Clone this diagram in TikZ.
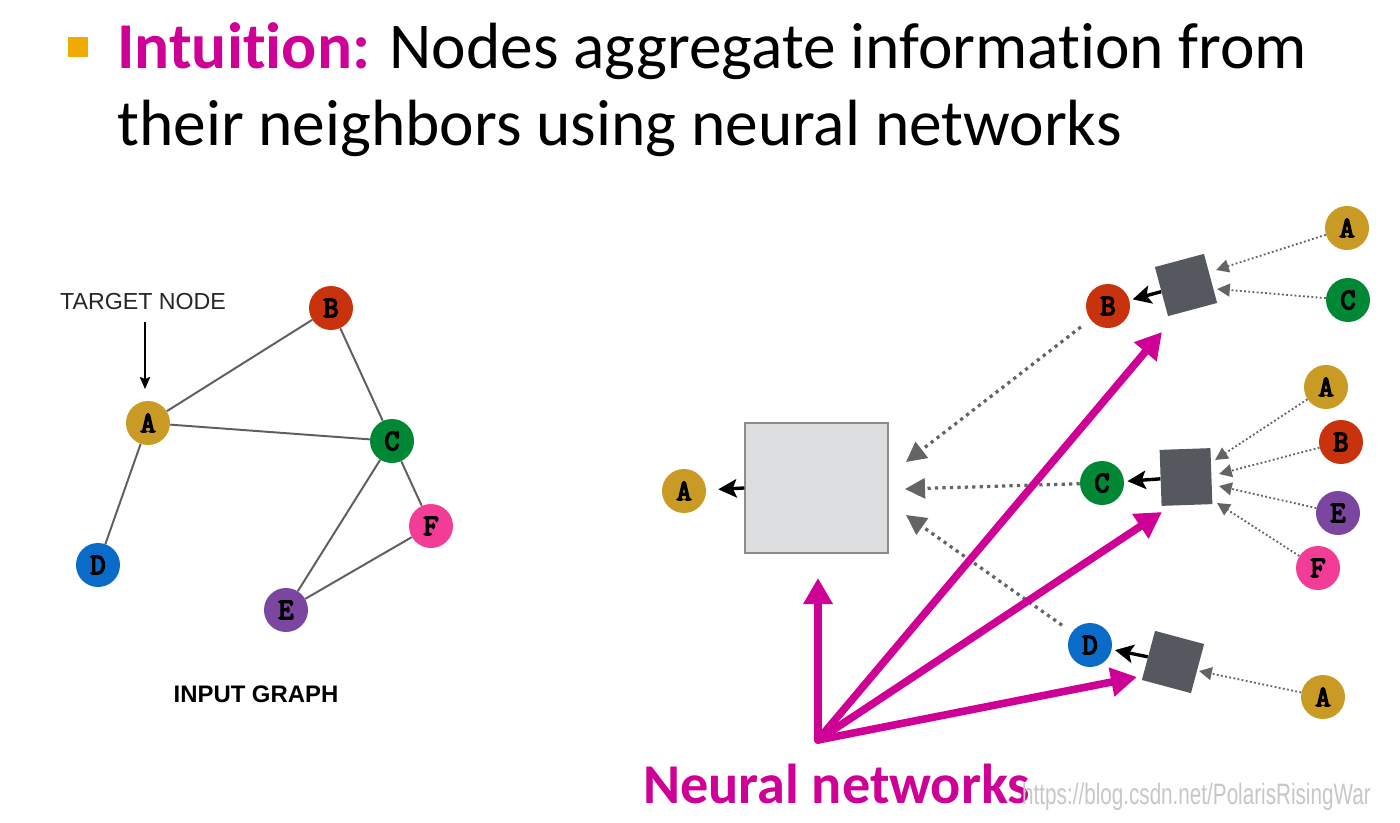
\documentclass[tikz,border=0pt]{standalone}
\usepackage{fontspec}
\setmainfont{Carlito}[Ligatures=NoCommon]
\newfontfamily\helv{Liberation Sans}
\newfontfamily\cour{Latin Modern Mono}[FakeBold=5]
\usetikzlibrary{arrows.meta}
\definecolor{nA}{RGB}{201,154,36}
\definecolor{nB}{RGB}{200,50,12}
\definecolor{nC}{RGB}{0,136,52}
\definecolor{nD}{RGB}{10,108,200}
\definecolor{nE}{RGB}{122,70,160}
\definecolor{nF}{RGB}{242,60,150}
\definecolor{mag}{RGB}{206,0,150}
\definecolor{bul}{RGB}{240,170,0}
\definecolor{boxgray}{RGB}{220,221,223}
\definecolor{sqgray}{RGB}{85,88,94}
\definecolor{dotgray}{RGB}{100,100,100}
\definecolor{edgegray}{RGB}{95,95,95}
\begin{document}
\begin{tikzpicture}[x=0.025cm,y=-0.025cm,
  gnode/.style={circle,minimum size=1.1cm,inner sep=0pt,font=\cour\fontsize{21}{21}\selectfont},
  gedge/.style={draw=edgegray,line width=1.4pt},
  sq/.style={fill=sqgray,minimum size=1.27cm,inner sep=0pt},
  blk/.style={draw=black,line width=2.4pt,-{Stealth[length=0.46cm,width=0.46cm,inset=0.1cm]}},
  bigdot/.style={draw=dotgray,line width=2.3pt,dash pattern=on 2.3pt off 3pt,-{Triangle[length=0.5cm,width=0.5cm]}},
  smalldot/.style={draw=dotgray,line width=1.3pt,dash pattern=on 1.3pt off 1.7pt,-{Triangle[length=0.32cm,width=0.32cm]}},
  magarrow/.style={draw=mag,line width=5.4pt,line cap=round,-{Triangle[length=0.65cm,width=0.7cm]}}]
\useasboundingbox (0,0) rectangle (1400,822);
% title
\node[fill=bul,minimum size=0.5cm,inner sep=0pt] (bullet) at (78,47) {};
\node[anchor=base west,inner sep=0pt,font=\fontsize{46.5}{55}\selectfont] (t1) at (117,68)
  {\textcolor{mag}{\textbf{Intuition:}} Nodes aggregate information from};
\node[anchor=base west,inner sep=0pt,font=\fontsize{46.5}{55}\selectfont] (t2) at (117,145)
  {their neighbors using neural networks};
% input graph
\node[gnode,fill=nA] (A) at (148,423) {A};
\node[gnode,fill=nB] (B) at (331,308) {B};
\node[gnode,fill=nC] (C) at (392,441) {C};
\node[gnode,fill=nD] (D) at (98,565) {D};
\node[gnode,fill=nE] (E) at (286,610) {E};
\node[gnode,fill=nF] (F) at (431,526) {F};
\draw[gedge] (A) -- (B);
\draw[gedge] (A) -- (C);
\draw[gedge] (B) -- (C);
\draw[gedge] (A) -- (D);
\draw[gedge] (C) -- (E);
\draw[gedge] (C) -- (F);
\draw[gedge] (E) -- (F);
\node[font=\helv\fontsize{16.5}{16.5}\selectfont,text=black!85] (tn) at (143,302) {TARGET NODE};
\coordinate (tgS) at (145,322);
\coordinate (tgE) at (145,389);
\draw[line width=1.3pt,-{Stealth[length=0.3cm,width=0.26cm,inset=0.05cm]}] (tgS) -- (tgE);
\node[font=\helv\bfseries\fontsize{17}{17}\selectfont] (ig) at (256,694) {INPUT GRAPH};
% aggregation
\node[gnode,fill=nA] (oA) at (684,491) {A};
\node[draw=black!45,line width=1pt,fill=boxgray,minimum width=3.575cm,minimum height=3.25cm,inner sep=0pt] (big) at (816.5,488) {};
\draw[blk,shorten >=0.3cm] (big.west) -- (oA);
\node[gnode,fill=nB] (rB) at (1108,306) {B};
\node[gnode,fill=nC] (rC) at (1102,483) {C};
\node[gnode,fill=nD] (rD) at (1090,645) {D};
\coordinate (eB) at (906,462);
\coordinate (eC) at (905,489);
\coordinate (eD) at (906,515);
\draw[bigdot,shorten <=0.3cm] (rB) -- (eB);
\draw[bigdot] (rC) -- (eC);
\draw[bigdot,shorten <=0.3cm] (rD) -- (eD);
% top group
\node[sq,rotate=15] (sqB) at (1186,285) {};
\node[gnode,fill=nA] (tA) at (1347,228) {A};
\node[gnode,fill=nC] (tC) at (1348,300) {C};
\coordinate (tAe) at (1216,270);
\coordinate (tCe) at (1217,289);
\draw[smalldot] (tA) -- (tAe);
\draw[smalldot] (tC) -- (tCe);
\draw[blk,shorten >=0.08cm] (sqB) -- (rB);
% middle group
\node[sq,minimum width=1.27cm,minimum height=1.4cm,rotate=2] (sqC) at (1186,477) {};
\node[gnode,fill=nA] (mA) at (1326,387) {A};
\node[gnode,fill=nB] (mB) at (1341,442) {B};
\node[gnode,fill=nE] (mE) at (1338,513) {E};
\node[gnode,fill=nF] (mF) at (1318,568) {F};
\coordinate (mAe) at (1215,460);
\coordinate (mBe) at (1219,474);
\coordinate (mEe) at (1219,486);
\coordinate (mFe) at (1217,503);
\draw[smalldot] (mA) -- (mAe);
\draw[smalldot] (mB) -- (mBe);
\draw[smalldot] (mE) -- (mEe);
\draw[smalldot] (mF) -- (mFe);
\draw[blk,shorten >=0.08cm] (sqC) -- (rC);
% bottom group
\node[sq,rotate=-15] (sqD) at (1173,662) {};
\node[gnode,fill=nA] (bA) at (1323,697) {A};
\coordinate (bAe) at (1199,671);
\draw[smalldot] (bA) -- (bAe);
\draw[blk,shorten >=0.08cm] (sqD) -- (rD);
% neural network arrows
\coordinate (nnO) at (818,740);
\coordinate (nnUp) at (818,578);
\coordinate (nnB) at (1162,332);
\coordinate (nnC) at (1162,512);
\coordinate (nnD) at (1137,677);
\draw[magarrow] (nnO) -- (nnUp);
\draw[magarrow] (nnO) -- (nnB);
\draw[magarrow] (nnO) -- (nnC);
\draw[magarrow] (nnO) -- (nnD);
\node[anchor=base west,inner sep=0pt,text=mag,font=\bfseries\fontsize{40}{40}\selectfont] (nn) at (643,803) {Neural networks};
\node[anchor=base west,inner sep=0pt,text=black!22,font=\helv\fontsize{21}{21}\selectfont,xscale=0.70] (wm) at (1022,804) {https://blog.csdn.net/PolarisRisingWar};
\end{tikzpicture}
\end{document}
